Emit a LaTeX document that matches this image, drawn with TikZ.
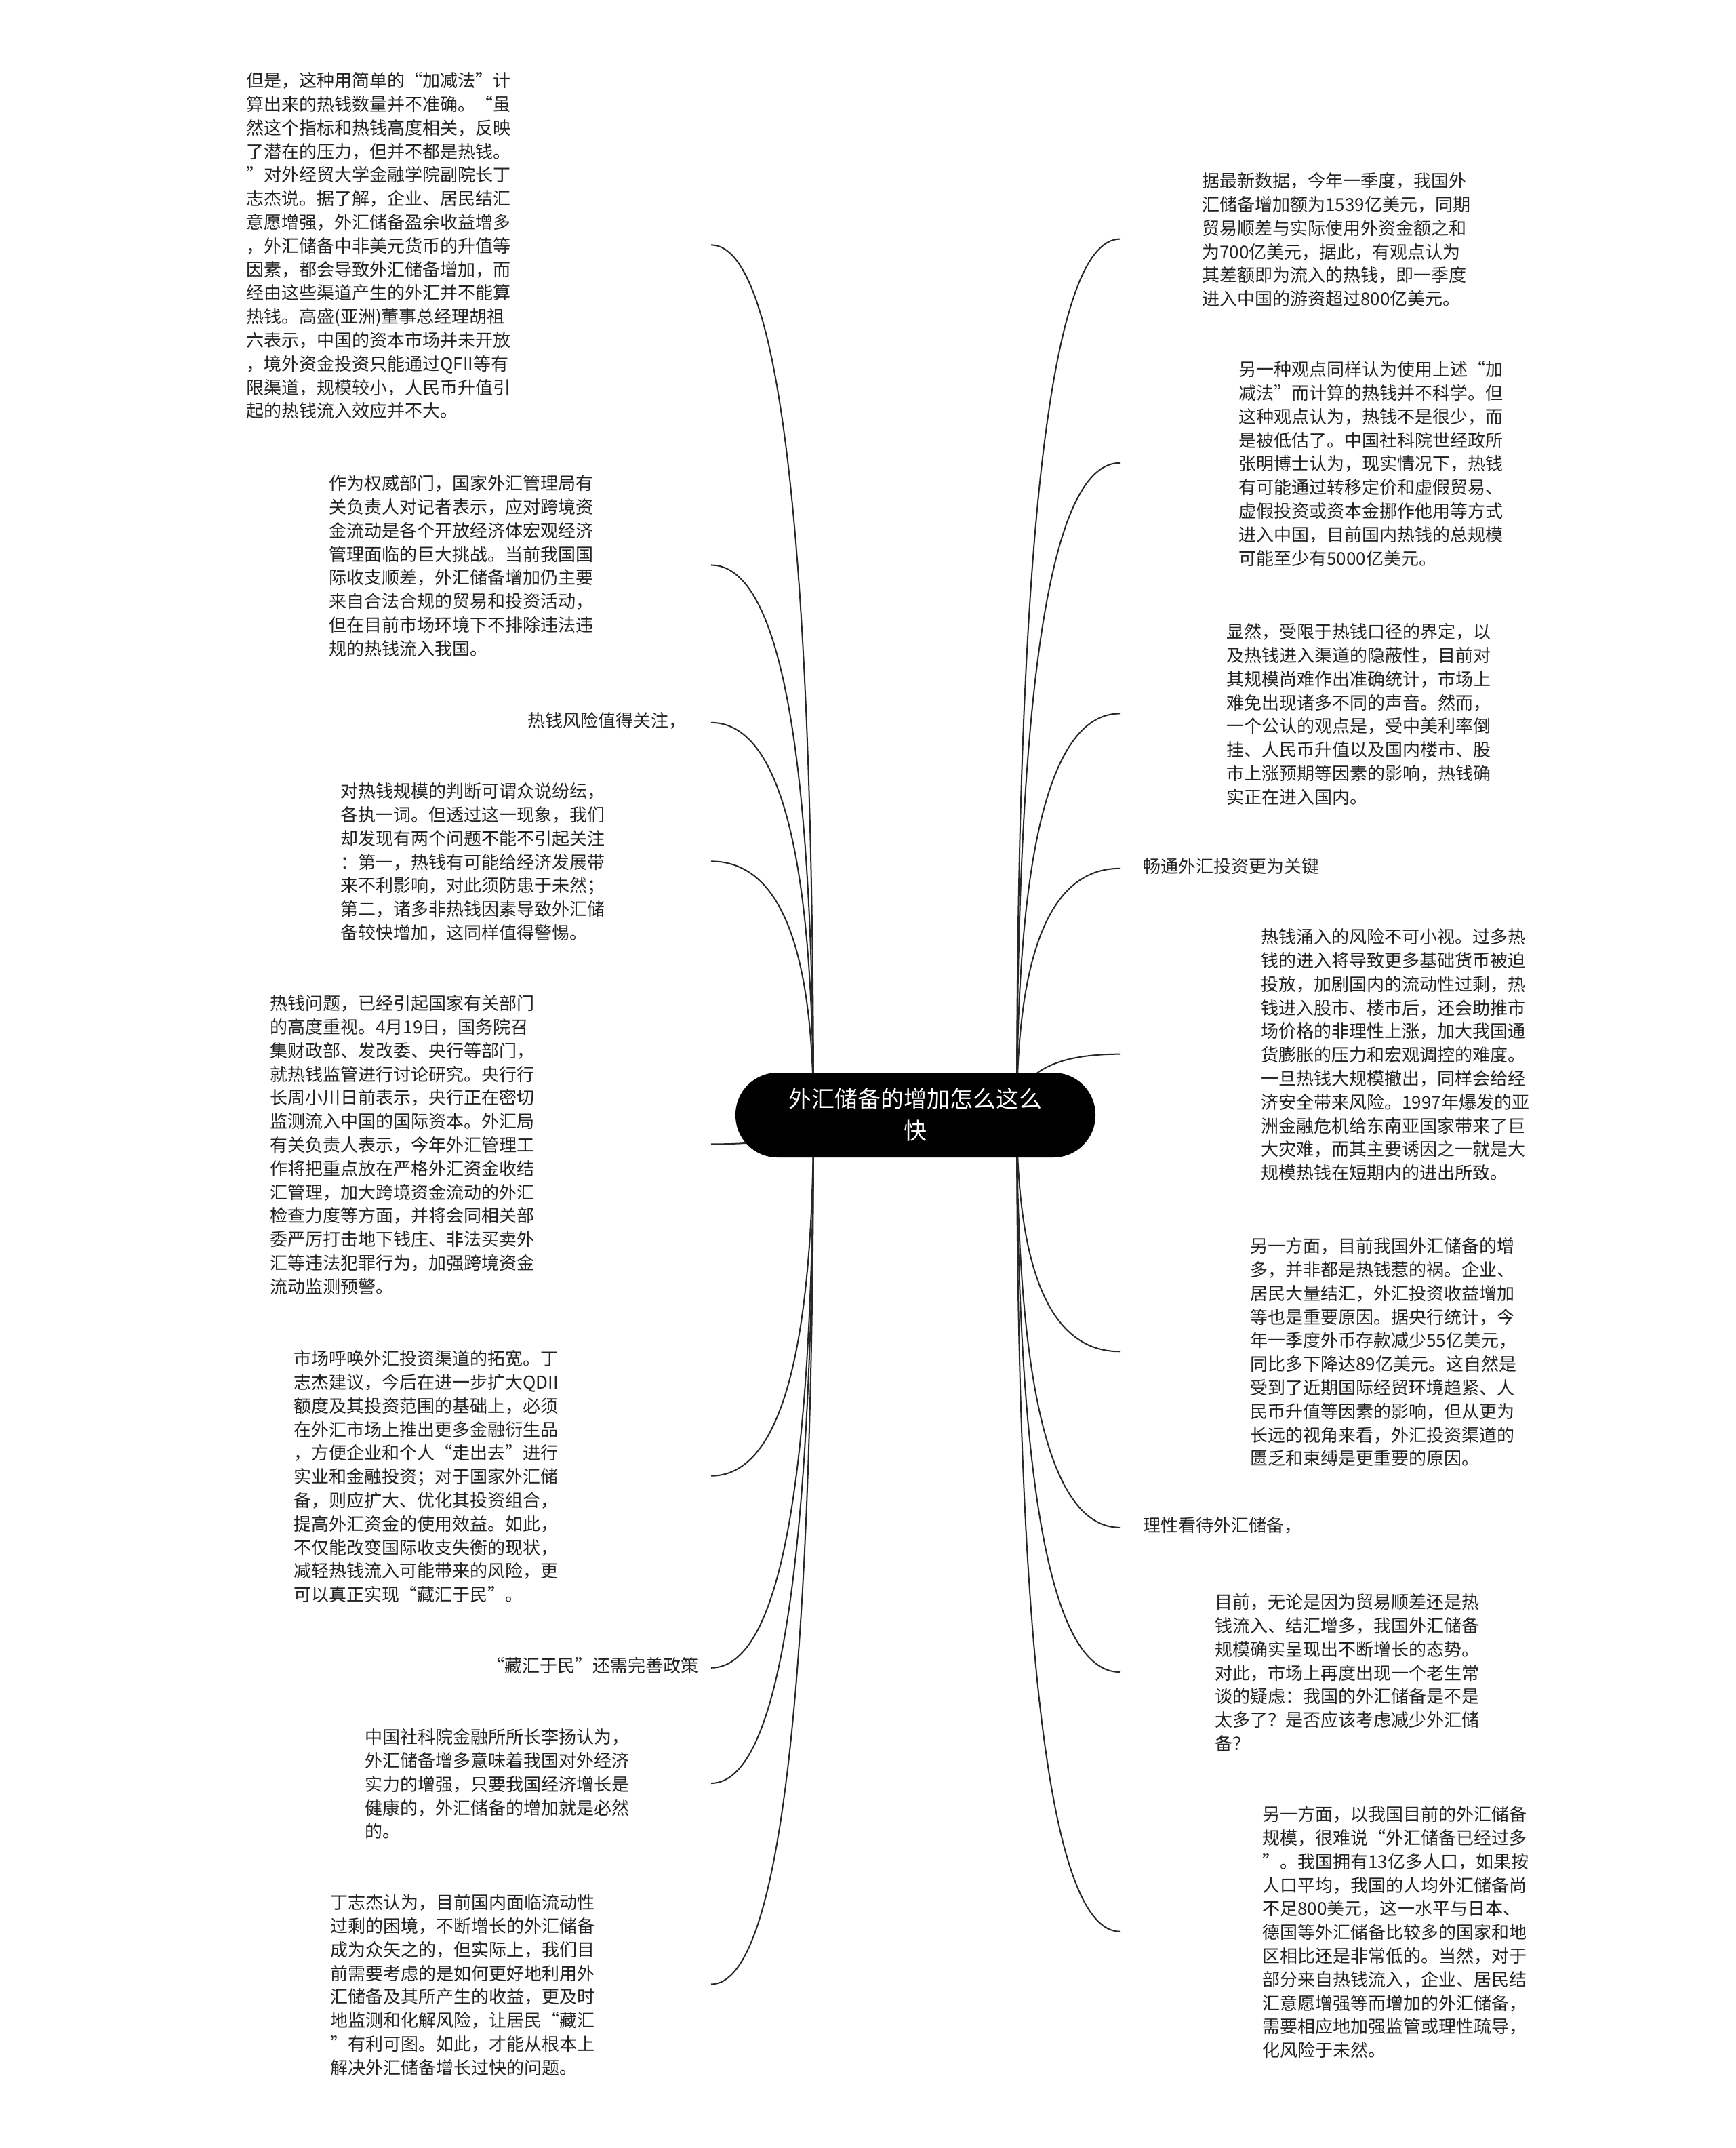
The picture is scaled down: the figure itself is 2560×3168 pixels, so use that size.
\documentclass[tikz,border=0pt]{standalone}
\usepackage{fontspec}
\newfontfamily\cjk{Noto Sans CJK SC}
\usetikzlibrary{calc}
\definecolor{txt}{RGB}{35,35,35}
\definecolor{lnc}{RGB}{40,40,40}
\tikzset{
  blk/.style={font=\cjk\fontsize{13}{17.4}\selectfont, align=left, inner sep=0pt, anchor=north west, text=txt},
  conn/.style={draw=lnc, line width=1pt},
  hub/.style={fill=black, text=white, rounded corners=31pt, minimum width=265.5pt, minimum height=62.5pt, inner sep=0pt, align=center, font=\cjk\fontsize{17}{23.5}\selectfont}
}
\begin{document}
\begin{tikzpicture}[x=0.5pt,y=-0.5pt]
\fill[white] (0,0) rectangle (2560,3168);
\useasboundingbox (0,0) rectangle (2560,3168);
\coordinate (sl) at (1200,1645);
\coordinate (sr) at (1500,1645);
\coordinate (eLx) at (1049,0);
\coordinate (eRx) at (1652,0);
% left blocks
\node[blk] (L1) at (363,104) {\strut 但是，这种用简单的“加减法”计\\算出来的热钱数量并不准确。“虽\\然这个指标和热钱高度相关，反映\\了潜在的压力，但并不都是热钱。\\”对外经贸大学金融学院副院长丁\\志杰说。据了解，企业、居民结汇\\意愿增强，外汇储备盈余收益增多\\，外汇储备中非美元货币的升值等\\因素，都会导致外汇储备增加，而\\经由这些渠道产生的外汇并不能算\\热钱。高盛(亚洲)董事总经理胡祖\\六表示，中国的资本市场并未开放\\，境外资金投资只能通过QFII等有\\限渠道，规模较小，人民币升值引\\起的热钱流入效应并不大。};
\node[blk] (L2) at (485,698) {\strut 作为权威部门，国家外汇管理局有\\关负责人对记者表示，应对跨境资\\金流动是各个开放经济体宏观经济\\管理面临的巨大挑战。当前我国国\\际收支顺差，外汇储备增加仍主要\\来自合法合规的贸易和投资活动，\\但在目前市场环境下不排除违法违\\规的热钱流入我国。};
\node[blk] (L3a) at (778,1048) {\strut 热钱风险值得关注，};
\node[blk] (L3) at (502,1152) {\strut 对热钱规模的判断可谓众说纷纭，\\各执一词。但透过这一现象，我们\\却发现有两个问题不能不引起关注\\：第一，热钱有可能给经济发展带\\来不利影响，对此须防患于未然；\\第二，诸多非热钱因素导致外汇储\\备较快增加，这同样值得警惕。};
\node[blk] (L4) at (398,1465) {\strut 热钱问题，已经引起国家有关部门\\的高度重视。4月19日，国务院召\\集财政部、发改委、央行等部门，\\就热钱监管进行讨论研究。央行行\\长周小川日前表示，央行正在密切\\监测流入中国的国际资本。外汇局\\有关负责人表示，今年外汇管理工\\作将把重点放在严格外汇资金收结\\汇管理，加大跨境资金流动的外汇\\检查力度等方面，并将会同相关部\\委严厉打击地下钱庄、非法买卖外\\汇等违法犯罪行为，加强跨境资金\\流动监测预警。};
\node[blk] (L5) at (433,1989) {\strut 市场呼唤外汇投资渠道的拓宽。丁\\志杰建议，今后在进一步扩大QDII\\额度及其投资范围的基础上，必须\\在外汇市场上推出更多金融衍生品\\，方便企业和个人“走出去”进行\\实业和金融投资；对于国家外汇储\\备，则应扩大、优化其投资组合，\\提高外汇资金的使用效益。如此，\\不仅能改变国际收支失衡的现状，\\减轻热钱流入可能带来的风险，更\\可以真正实现“藏汇于民”。};
\node[blk] (L5a) at (718,2442) {\strut “藏汇于民”还需完善政策};
\node[blk] (L6) at (538,2547) {\strut 中国社科院金融所所长李扬认为，\\外汇储备增多意味着我国对外经济\\实力的增强，只要我国经济增长是\\健康的，外汇储备的增加就是必然\\的。};
\node[blk] (L7) at (487,2791) {\strut 丁志杰认为，目前国内面临流动性\\过剩的困境，不断增长的外汇储备\\成为众矢之的，但实际上，我们目\\前需要考虑的是如何更好地利用外\\汇储备及其所产生的收益，更及时\\地监测和化解风险，让居民“藏汇\\”有利可图。如此，才能从根本上\\解决外汇储备增长过快的问题。};
% right blocks
\node[blk] (R1) at (1773,252) {\strut 据最新数据，今年一季度，我国外\\汇储备增加额为1539亿美元，同期\\贸易顺差与实际使用外资金额之和\\为700亿美元，据此，有观点认为\\其差额即为流入的热钱，即一季度\\进入中国的游资超过800亿美元。};
\node[blk] (R2) at (1827,530) {\strut 另一种观点同样认为使用上述“加\\减法”而计算的热钱并不科学。但\\这种观点认为，热钱不是很少，而\\是被低估了。中国社科院世经政所\\张明博士认为，现实情况下，热钱\\有可能通过转移定价和虚假贸易、\\虚假投资或资本金挪作他用等方式\\进入中国，目前国内热钱的总规模\\可能至少有5000亿美元。};
\node[blk] (R3) at (1809,917) {\strut 显然，受限于热钱口径的界定，以\\及热钱进入渠道的隐蔽性，目前对\\其规模尚难作出准确统计，市场上\\难免出现诸多不同的声音。然而，\\一个公认的观点是，受中美利率倒\\挂、人民币升值以及国内楼市、股\\市上涨预期等因素的影响，热钱确\\实正在进入国内。};
\node[blk] (R4) at (1686,1263) {\strut 畅通外汇投资更为关键};
\node[blk] (R5) at (1860,1367) {\strut 热钱涌入的风险不可小视。过多热\\钱的进入将导致更多基础货币被迫\\投放，加剧国内的流动性过剩，热\\钱进入股市、楼市后，还会助推市\\场价格的非理性上涨，加大我国通\\货膨胀的压力和宏观调控的难度。\\一旦热钱大规模撤出，同样会给经\\济安全带来风险。1997年爆发的亚\\洲金融危机给东南亚国家带来了巨\\大灾难，而其主要诱因之一就是大\\规模热钱在短期内的进出所致。};
\node[blk] (R6) at (1844,1823) {\strut 另一方面，目前我国外汇储备的增\\多，并非都是热钱惹的祸。企业、\\居民大量结汇，外汇投资收益增加\\等也是重要原因。据央行统计，今\\年一季度外币存款减少55亿美元，\\同比多下降达89亿美元。这自然是\\受到了近期国际经贸环境趋紧、人\\民币升值等因素的影响，但从更为\\长远的视角来看，外汇投资渠道的\\匮乏和束缚是更重要的原因。};
\node[blk] (R7) at (1686,2235) {\strut 理性看待外汇储备，};
\node[blk] (R8) at (1792,2348) {\strut 目前，无论是因为贸易顺差还是热\\钱流入、结汇增多，我国外汇储备\\规模确实呈现出不断增长的态势。\\对此，市场上再度出现一个老生常\\谈的疑虑：我国的外汇储备是不是\\太多了？是否应该考虑减少外汇储\\备？};
\node[blk] (R9) at (1862,2661) {\strut 另一方面，以我国目前的外汇储备\\规模，很难说“外汇储备已经过多\\”。我国拥有13亿多人口，如果按\\人口平均，我国的人均外汇储备尚\\不足800美元，这一水平与日本、\\德国等外汇储备比较多的国家和地\\区相比还是非常低的。当然，对于\\部分来自热钱流入，企业、居民结\\汇意愿增强等而增加的外汇储备，\\需要相应地加强监管或理性疏导，\\化风险于未然。};
% connectors
\foreach \n in {L1,L2,L3a,L3,L4,L5,L5a,L6,L7}{
  \coordinate (e\n) at (\n.east -| eLx);
  \coordinate (q\n) at (sl |- e\n);
  \draw[conn] (sl) .. controls ($(sl)!0.667!(q\n)$) and ($(e\n)!0.667!(q\n)$) .. (e\n);
}
\foreach \n in {R1,R2,R3,R4,R5,R6,R7,R8,R9}{
  \coordinate (e\n) at (\n.west -| eRx);
  \coordinate (q\n) at (sr |- e\n);
  \draw[conn] (sr) .. controls ($(sr)!0.667!(q\n)$) and ($(e\n)!0.667!(q\n)$) .. (e\n);
}
% central topic
\node[hub] (c) at (1350.5,1644.5) {外汇储备的增加怎么这么\\快};
\end{tikzpicture}
\end{document}
